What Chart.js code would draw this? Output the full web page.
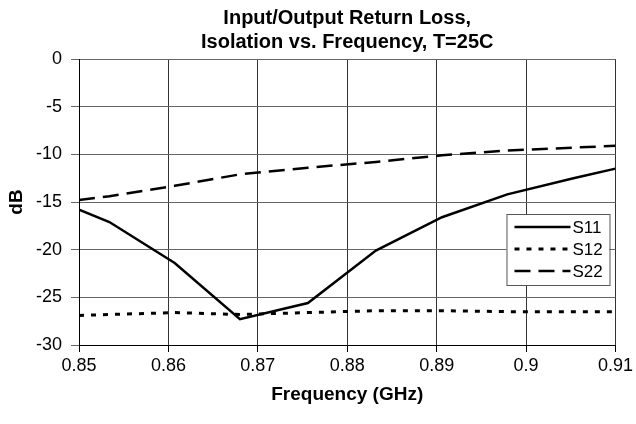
<!DOCTYPE html>
<html>
<head>
<meta charset="utf-8">
<script src="https://cdn.jsdelivr.net/npm/chart.js@4/dist/chart.umd.min.js"></script>
<style>
  html, body { margin: 0; padding: 0; background: #fff; }
  #wrap { width: 636px; height: 424px; }
</style>
</head>
<body>
<div id="wrap"><canvas id="chart" width="636" height="424"></canvas></div>
<script>
// frequency points (GHz)
const freq = [0.85, 0.8534, 0.8607, 0.868, 0.8756, 0.8832, 0.8906, 0.8979, 0.9053, 0.91]
// return loss / isolation in dB
const s11 = [-15.8, -17.1, -21.4, -27.3, -25.6, -20.1, -16.6, -14.2, -12.5, -11.5]
const s12 = [-26.9, -26.8, -26.6, -26.8, -26.6, -26.4, -26.4, -26.5, -26.5, -26.5]
const s22 = [-14.8, -14.4, -13.3, -12.1, -11.4, -10.8, -10.1, -9.6, -9.3, -9.1]
const seriesNames = ['S11', 'S12', 'S22']
const titleLines = ['Input/Output Return Loss,', 'Isolation vs. Frequency, T=25C']

const FONT = '"Liberation Sans", Arial, sans-serif'

function pts(vals){
  return freq.map((f, i) => ({x: f, y: vals[i]}))
}

// legend drawn inside the plot, like the excel one
const boxLegend = {
  id: 'boxLegend',
  afterDatasetsDraw(chart){
    const ctx = chart.ctx
    const area = chart.chartArea
    const w = 103, h = 71
    const x0 = area.right - 6 - w
    const y0 = area.top + 155
    ctx.save()
    ctx.fillStyle = '#fff'
    ctx.fillRect(x0, y0, w, h)
    ctx.strokeStyle = '#555'
    ctx.lineWidth = 1
    ctx.strokeRect(x0 + 0.5, y0 + 0.5, w, h)
    chart.data.datasets.forEach((ds, i) => {
      const y = y0 + 13 + i * 22
      ctx.beginPath()
      ctx.setLineDash(ds.borderDash || [])
      ctx.lineWidth = ds.borderWidth
      ctx.strokeStyle = ds.borderColor
      ctx.moveTo(x0 + 8, y)
      ctx.lineTo(x0 + 64, y)
      ctx.stroke()
      ctx.setLineDash([])
      ctx.fillStyle = '#000'
      ctx.font = '17px ' + FONT
      ctx.textBaseline = 'middle'
      ctx.fillText(ds.label, x0 + 66, y + 1)
    })
    ctx.restore()
  }
}

new Chart(document.getElementById('chart'), {
  type: 'line',
  data: {
    datasets: [
      {label: seriesNames[0], data: pts(s11), borderColor: '#000', borderWidth: 2.5, pointRadius: 0, tension: 0},
      {label: seriesNames[1], data: pts(s12), borderColor: '#000', borderWidth: 3, borderDash: [5, 7], pointRadius: 0, tension: 0},
      {label: seriesNames[2], data: pts(s22), borderColor: '#000', borderWidth: 2.5, borderDash: [16, 8], pointRadius: 0, tension: 0}
    ]
  },
  options: {
    responsive: false,
    animation: false,
    layout: {padding: {left: 5, right: 19, top: 0, bottom: 8}},
    plugins: {
      legend: {display: false},
      tooltip: {enabled: false},
      title: {
        display: true,
        fullSize: false,
        text: titleLines,
        color: '#000',
        font: {family: FONT, size: 20, weight: 'bold', lineHeight: 1.2},
        padding: {top: 6, bottom: 5}
      }
    },
    scales: {
      x: {
        type: 'linear',
        min: 0.85,
        max: 0.91,
        ticks: {
          stepSize: 0.01,
          color: '#000',
          font: {family: FONT, size: 18},
          padding: 3,
          maxRotation: 0,
          callback: v => String(+v.toFixed(2))
        },
        grid: {color: '#333', lineWidth: 1, tickLength: 7, tickColor: '#000'},
        border: {color: '#000', width: 1},
        title: {
          display: true,
          text: 'Frequency (GHz)',
          color: '#000',
          font: {family: FONT, size: 19, weight: 'bold'},
          padding: {top: 0, bottom: 10}
        },
        afterFit(scale){ scale.height = 71 }
      },
      y: {
        min: -30,
        max: 0,
        ticks: {
          stepSize: 5,
          color: '#000',
          font: {family: FONT, size: 18},
          padding: 9
        },
        grid: {color: '#666', lineWidth: 1, tickLength: 8, tickColor: '#666'},
        border: {color: '#000', width: 1},
        title: {
          display: true,
          text: 'dB',
          color: '#000',
          font: {family: FONT, size: 19, weight: 'bold'},
          padding: {top: 0, bottom: 2}
        },
        afterFit(scale){ scale.width = 74 }
      }
    }
  },
  plugins: [boxLegend]
})
</script>
</body>
</html>
